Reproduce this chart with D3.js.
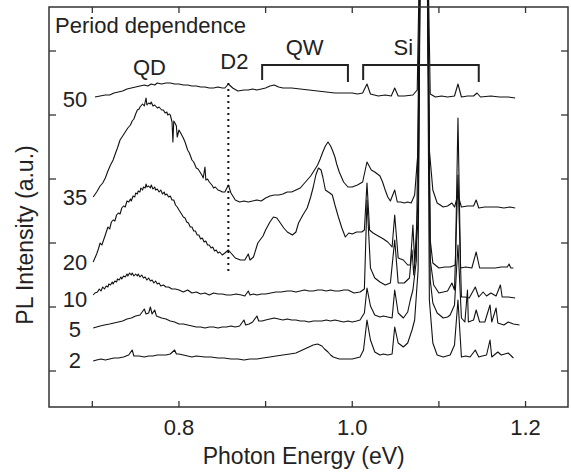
<!DOCTYPE html>
<html>
<head>
<meta charset="utf-8">
<script src="https://cdn.jsdelivr.net/npm/d3@7"></script>
<style>
  body { margin: 0; background: #fff; }
  text { font-family: "Liberation Sans", Arial, sans-serif; fill: #222; }
</style>
</head>
<body>
<div id="chart"></div>
<script>
// Chart size
var width = 571, height = 472;
var margin = {top: 7, right: 3, bottom: 65, left: 49};

// PL spectra, [photon energy (eV), intensity (a.u.)], vertically stacked as in the figure
var p50 = [[0.703,310],[0.709,311],[0.715,312],[0.72,312],[0.725,314],[0.73,315],[0.735,316],[0.74,318],[0.745,319],
  [0.75,320],[0.755,321],[0.76,322],[0.764,321],[0.768,323],[0.772,322],[0.775,324],[0.78,323],[0.785,324],[0.79,324],
  [0.795,323],[0.80,323],[0.805,322],[0.81,322],[0.815,321],[0.82,321],[0.825,320],[0.83,320],[0.835,319],[0.84,319],
  [0.845,320],[0.85,319],[0.853,319],[0.857,323],[0.862,319],[0.868,316],[0.875,317],[0.88,317],[0.885,318],[0.89,317],
  [0.895,318],[0.9,319],[0.905,321],[0.91,322],[0.915,320],[0.92,319],[0.93,319],[0.94,318],[0.95,317],[0.96,316],
  [0.97,315],[0.98,314],[0.99,314],[1.0,314],[1.006,313],[1.012,314],[1.017,323],[1.021,313],[1.03,311],[1.038,312],
  [1.045,311],[1.049,319],[1.053,311],[1.06,311],[1.07,312],[1.075,317],[1.079,520],[1.086,520],[1.09,313],[1.096,310],
  [1.103,311],[1.11,310],[1.118,311],[1.122,323],[1.126,310],[1.133,311],[1.14,311],[1.144,314],[1.148,310],[1.16,311],
  [1.17,310],[1.18,310],[1.188,309]];

var p35 = [[0.701,210],[0.705,215],[0.709,221],[0.712,224],[0.715,229],[0.718,236],[0.721,242],[0.724,247],[0.726,252],
  [0.729,259],[0.732,267],[0.735,271],[0.738,275],[0.741,279],[0.744,282],[0.746,286],[0.748,288],[0.750,293],[0.752,297],
  [0.754,298],[0.755,300],[0.757,302],[0.758,303],[0.760,301],[0.762,309],[0.763,302],[0.765,304],[0.767,303],[0.768,305],
  [0.770,301],[0.772,302],[0.775,299],[0.777,300],[0.780,297],[0.782,297],[0.784,294],[0.786,295],[0.787,292],[0.789,293],
  [0.790,292],[0.792,285],[0.793,265],[0.794,286],[0.796,283],[0.797,281],[0.798,270],[0.800,277],[0.802,274],[0.805,269],
  [0.807,265],[0.810,257],[0.812,254],[0.815,247],[0.817,245],[0.820,239],[0.822,238],[0.825,234],[0.827,231],[0.828,229],
  [0.830,240],[0.831,227],[0.833,228],[0.835,225],[0.838,222],[0.840,219],[0.842,220],[0.845,217],[0.848,216],[0.850,215],
  [0.853,215],[0.857,222],[0.860,214],[0.865,207],[0.870,205],[0.875,206],[0.880,205],[0.885,206],[0.890,207],[0.895,206],
  [0.900,209],[0.905,211],[0.910,212],[0.915,212],[0.920,213],[0.925,215],[0.930,215],[0.935,217],[0.940,219],[0.944,223],
  [0.948,227],[0.952,231],[0.955,235],[0.960,242],[0.963,248],[0.966,255],[0.969,261],[0.972,265],[0.975,261],[0.977,257],
  [0.980,250],[0.982,243],[0.985,235],[0.988,229],[0.990,225],[0.995,220],[1.000,220],[1.006,222],[1.012,225],[1.017,245],
  [1.022,237],[1.026,235],[1.029,233],[1.032,231],[1.035,225],[1.038,217],[1.041,210],[1.044,206],[1.049,217],[1.052,205],
  [1.056,205],[1.060,204],[1.064,205],[1.068,204],[1.072,212],[1.076,257],[1.079,520],[1.086,520],[1.089,257],[1.093,217],
  [1.098,204],[1.105,200],[1.110,201],[1.115,204],[1.118,200],[1.122,212],[1.126,200],[1.133,201],[1.14,201],[1.143,207],
  [1.146,199],[1.153,200],[1.16,200],[1.168,200],[1.175,199],[1.182,200],[1.188,199]];

var p20 = [[0.701,145],[0.703,149],[0.705,153],[0.707,158],[0.709,164],[0.711,162],[0.713,167],[0.715,172],[0.718,180],
  [0.720,178],[0.722,185],[0.724,187],[0.726,186],[0.728,192],[0.730,194],[0.732,193],[0.734,199],[0.736,201],[0.738,200],
  [0.740,206],[0.742,205],[0.744,208],[0.745,206],[0.747,211],[0.749,210],[0.750,214],[0.752,213],[0.753,216],[0.755,215],
  [0.756,219],[0.758,217],[0.759,220],[0.761,219],[0.762,223],[0.763,220],[0.765,221],[0.767,219],[0.768,222],[0.770,218],
  [0.772,220],[0.773,217],[0.775,218],[0.777,215],[0.779,217],[0.781,213],[0.783,215],[0.784,212],[0.786,213],[0.788,210],
  [0.790,211],[0.792,207],[0.794,207],[0.796,202],[0.798,200],[0.800,197],[0.803,193],[0.805,190],[0.807,189],[0.809,185],
  [0.811,184],[0.813,180],[0.815,180],[0.817,176],[0.819,176],[0.821,172],[0.823,172],[0.825,168],[0.827,169],[0.829,165],
  [0.831,166],[0.833,162],[0.835,162],[0.837,159],[0.839,160],[0.841,156],[0.843,157],[0.845,154],[0.847,155],[0.850,152],
  [0.853,154],[0.857,157],[0.860,154],[0.865,149],[0.871,147],[0.876,147],[0.880,153],[0.882,147],[0.886,150],[0.891,164],
  [0.897,171],[0.900,177],[0.905,185],[0.909,190],[0.913,189],[0.917,184],[0.921,179],[0.925,175],[0.931,172],[0.935,175],
  [0.938,184],[0.943,192],[0.948,199],[0.952,210],[0.955,220],[0.958,232],[0.961,239],[0.964,237],[0.966,230],[0.969,217],
  [0.974,214],[0.977,212],[0.980,202],[0.984,190],[0.988,179],[0.992,170],[0.996,174],[1.000,173],[1.005,175],[1.011,175],
  [1.014,177],[1.017,224],[1.020,177],[1.024,174],[1.028,172],[1.032,170],[1.036,168],[1.041,165],[1.046,160],[1.049,192],
  [1.053,149],[1.059,147],[1.064,142],[1.067,142],[1.070,182],[1.072,145],[1.076,207],[1.079,520],[1.086,520],[1.090,167],
  [1.093,144],[1.10,139],[1.107,140],[1.113,140],[1.119,142],[1.122,289],[1.125,139],[1.131,140],[1.138,139],[1.143,155],
  [1.147,139],[1.155,139],[1.165,139],[1.172,140],[1.179,140],[1.181,143],[1.183,139],[1.186,139]];

var p10 = [[0.701,112],[0.703,114],[0.706,115],[0.708,118],[0.710,116],[0.712,120],[0.714,118],[0.716,121],[0.718,120],
  [0.719,123],[0.721,122],[0.723,125],[0.724,123],[0.726,126],[0.728,125],[0.729,128],[0.731,127],[0.733,130],[0.734,128],
  [0.736,131],[0.738,130],[0.740,133],[0.741,131],[0.743,134],[0.745,132],[0.746,134],[0.748,131],[0.750,133],[0.752,131],
  [0.753,133],[0.755,130],[0.757,132],[0.759,129],[0.761,130],[0.763,127],[0.765,129],[0.767,126],[0.769,127],[0.771,124],
  [0.773,126],[0.775,123],[0.777,124],[0.779,121],[0.782,122],[0.785,120],[0.788,120],[0.792,118],[0.796,118],[0.800,117],
  [0.805,115],[0.810,117],[0.815,114],[0.820,115],[0.825,113],[0.830,114],[0.835,112],[0.840,114],[0.845,113],[0.850,113],
  [0.855,112],[0.860,112],[0.866,113],[0.872,112],[0.876,111],[0.880,116],[0.882,112],[0.886,113],[0.890,112],[0.895,113],
  [0.900,113],[0.906,114],[0.912,115],[0.918,115],[0.925,116],[0.930,116],[0.935,115],[0.940,116],[0.945,117],[0.950,116],
  [0.955,116],[0.960,117],[0.965,117],[0.970,116],[0.975,117],[0.980,116],[0.985,116],[0.990,117],[0.995,117],[1.002,114],
  [1.009,115],[1.014,118],[1.017,207],[1.021,139],[1.026,129],[1.032,125],[1.038,122],[1.044,124],[1.049,167],[1.053,124],
  [1.060,124],[1.066,129],[1.069,157],[1.071,132],[1.076,187],[1.079,520],[1.086,520],[1.090,147],[1.094,122],[1.100,114],
  [1.105,115],[1.110,116],[1.115,124],[1.118,117],[1.122,232],[1.126,110],[1.130,110],[1.135,109],[1.142,120],[1.146,110],
  [1.151,115],[1.155,111],[1.160,114],[1.166,111],[1.171,122],[1.173,110],[1.180,110],[1.188,109]];

var p5 = [[0.701,79],[0.705,80],[0.709,81],[0.714,82],[0.72,83],[0.725,84],[0.73,85],[0.735,86],[0.74,88],[0.745,89],
  [0.75,91],[0.755,92],[0.760,98],[0.762,93],[0.765,94],[0.767,100],[0.769,93],[0.772,97],[0.774,91],[0.777,90],[0.78,89],
  [0.785,88],[0.79,86],[0.795,85],[0.80,83],[0.805,83],[0.81,82],[0.815,81],[0.82,80],[0.825,80],[0.83,79],[0.835,80],
  [0.84,80],[0.845,79],[0.85,80],[0.855,80],[0.86,81],[0.865,80],[0.87,81],[0.875,87],[0.877,82],[0.881,83],[0.885,85],
  [0.89,91],[0.892,86],[0.896,86],[0.90,87],[0.905,88],[0.91,89],[0.915,88],[0.92,87],[0.925,88],[0.93,87],[0.935,87],
  [0.94,86],[0.945,86],[0.95,85],[0.955,86],[0.96,86],[0.965,86],[0.97,87],[0.975,86],[0.98,87],[0.985,86],[0.99,85],
  [0.995,86],[1.00,85],[1.005,86],[1.009,87],[1.014,94],[1.017,119],[1.021,101],[1.026,92],[1.032,90],[1.036,91],
  [1.041,90],[1.046,89],[1.049,117],[1.053,94],[1.059,89],[1.064,95],[1.067,107],[1.070,117],[1.074,147],[1.079,520],
  [1.086,520],[1.090,127],[1.093,104],[1.098,94],[1.105,89],[1.110,90],[1.113,92],[1.118,102],[1.122,162],[1.126,89],
  [1.130,85],[1.133,117],[1.134,85],[1.140,87],[1.143,97],[1.147,85],[1.153,85],[1.159,102],[1.161,85],[1.166,99],
  [1.168,84],[1.175,82],[1.18,85],[1.186,83],[1.193,82]];

var p2 = [[0.701,46],[0.705,47],[0.710,48],[0.715,47],[0.72,48],[0.725,49],[0.73,49],[0.736,50],[0.742,52],[0.746,57],
  [0.748,51],[0.754,51],[0.76,50],[0.765,51],[0.77,51],[0.775,52],[0.78,52],[0.785,52],[0.79,53],[0.795,57],[0.797,53],
  [0.80,53],[0.805,52],[0.81,51],[0.815,50],[0.82,51],[0.83,50],[0.837,50],[0.845,49],[0.852,49],[0.86,48],[0.868,48],
  [0.875,47],[0.882,48],[0.89,48],[0.897,49],[0.905,50],[0.912,51],[0.92,52],[0.928,53],[0.935,54],[0.94,56],[0.945,58],
  [0.95,60],[0.955,62],[0.96,63],[0.965,61],[0.968,58],[0.972,55],[0.975,52],[0.978,50],[0.985,48],[0.992,48],[1.0,48],
  [1.009,50],[1.013,57],[1.017,87],[1.021,67],[1.026,55],[1.032,52],[1.036,53],[1.041,52],[1.046,53],[1.049,80],
  [1.053,64],[1.059,60],[1.064,64],[1.069,77],[1.072,87],[1.076,137],[1.079,520],[1.086,520],[1.089,107],[1.093,64],
  [1.098,52],[1.105,50],[1.113,52],[1.118,62],[1.122,107],[1.126,50],[1.131,51],[1.136,50],[1.142,57],[1.146,50],
  [1.150,51],[1.155,52],[1.159,67],[1.161,50],[1.168,55],[1.172,52],[1.18,54],[1.186,49]];

var spectra = [p50, p35, p20, p10, p5, p2];
var periods = ["50", "35", "20", "10", "5", "2"];
var labelLevels = [300, 202, 137, 100, 70, 39];   // intensity where each period label sits

var xTicks = [0.7, 0.8, 0.9, 1.0, 1.1, 1.2];
var xTickLabels = [0.8, 1.0, 1.2];
var yTicks = [36, 100, 164, 228, 292, 356];

var svg = d3.select("#chart").append("svg")
  .attr("width", width)
  .attr("height", height);

var x = d3.scaleLinear().domain([0.65, 1.249]).range([margin.left, width - margin.right]);
var y = d3.scaleLinear().domain([0, 400]).range([height - margin.bottom, margin.top]);

var line = d3.line()
  .x(function(d) { return x(d[0]); })
  .y(function(d) { return y(d[1]); });

// spectra
svg.selectAll("path.spec")
  .data(spectra)
  .enter()
  .append("path")
  .attr("class", "spec")
  .attr("d", line)
  .attr("fill", "none")
  .attr("stroke", "#111")
  .attr("stroke-width", 1.1)
  .attr("stroke-linejoin", "round");

// frame
svg.append("rect")
  .attr("x", x(0.65)).attr("y", y(400))
  .attr("width", x(1.249) - x(0.65))
  .attr("height", y(0) - y(400))
  .attr("fill", "none")
  .attr("stroke", "#333")
  .attr("stroke-width", 1.5);

// ticks, all pointing inwards
var tk = svg.append("g").attr("stroke", "#333").attr("stroke-width", 1.3);
xTicks.forEach(function(t) {
  tk.append("line").attr("x1", x(t)).attr("x2", x(t)).attr("y1", y(0)).attr("y2", y(0) - 6);
  tk.append("line").attr("x1", x(t)).attr("x2", x(t)).attr("y1", y(400)).attr("y2", y(400) + 6);
});
yTicks.forEach(function(t) {
  tk.append("line").attr("x1", x(0.65)).attr("x2", x(0.65) + 7).attr("y1", y(t)).attr("y2", y(t));
  tk.append("line").attr("x1", x(1.249)).attr("x2", x(1.249) - 7).attr("y1", y(t)).attr("y2", y(t));
});

svg.selectAll("text.xt")
  .data(xTickLabels)
  .enter()
  .append("text")
  .attr("class", "xt")
  .attr("x", function(d) { return x(d); })
  .attr("y", 435)
  .attr("text-anchor", "middle")
  .style("font-size", "22px")
  .text(function(d) { return d.toFixed(1); });

svg.append("text")
  .attr("x", x(0.944))
  .attr("y", 464)
  .attr("text-anchor", "middle")
  .style("font-size", "23px")
  .text("Photon Energy (eV)");

svg.append("text")
  .attr("transform", "translate(33," + y(172) + ") rotate(-90)")
  .attr("text-anchor", "middle")
  .style("font-size", "23px")
  .text("PL Intensity (a.u.)");

// period labels
svg.selectAll("text.per")
  .data(periods)
  .enter()
  .append("text")
  .attr("class", "per")
  .attr("x", x(0.68))
  .attr("y", function(d, i) { return y(labelLevels[i]); })
  .attr("text-anchor", "middle")
  .style("font-size", "22px")
  .text(function(d) { return d; });

svg.append("text")
  .attr("x", x(0.657))
  .attr("y", 33)
  .style("font-size", "22px")
  .text("Period dependence");

svg.append("text").attr("x", x(0.766)).attr("y", 75)
  .attr("text-anchor", "middle").style("font-size", "22px").text("QD");
svg.append("text").attr("x", x(0.864)).attr("y", 69)
  .attr("text-anchor", "middle").style("font-size", "22px").text("D2");
svg.append("text").attr("x", x(0.945)).attr("y", 55)
  .attr("text-anchor", "middle").style("font-size", "22px").text("QW");
svg.append("text").attr("x", x(1.059)).attr("y", 55)
  .attr("text-anchor", "middle").style("font-size", "22px").text("Si");

// D2 dotted marker
svg.append("line")
  .attr("x1", x(0.857)).attr("x2", x(0.857))
  .attr("y1", y(324)).attr("y2", y(134))
  .attr("stroke", "#111")
  .attr("stroke-width", 2)
  .attr("stroke-dasharray", "2,4");

// brackets for QW and Si ranges
var brackets = [[0.896, 0.995], [1.0126, 1.146]];
brackets.forEach(function(b) {
  svg.append("path")
    .attr("d", "M" + x(b[0]) + "," + y(327) + "V" + y(342) + "H" + x(b[1]) + "V" + y(325))
    .attr("fill", "none")
    .attr("stroke", "#222")
    .attr("stroke-width", 2);
});
</script>
</body>
</html>
